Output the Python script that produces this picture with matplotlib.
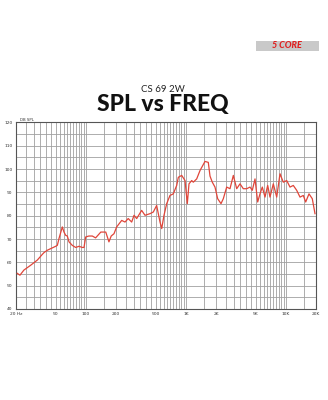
import numpy as np
import matplotlib
matplotlib.use("Agg")
import matplotlib.pyplot as plt
from matplotlib.patches import Rectangle

# ---- data ----
freq_hz = [20.6, 21.9, 24.0, 28.1, 32.7, 36.6, 38.1, 41.1, 44.5, 49.9, 51.8, 53.8,
           58.1, 60.4, 62.8, 65.2, 67.8, 73.1, 79.1, 85.3, 92.1, 95.7, 99.5, 107,
           116, 125, 141, 158, 170, 179, 191, 203, 228, 246, 265, 287, 303, 322,
           361, 390, 438, 472, 510, 551, 573, 604, 643, 693, 748, 809, 840, 908,
           980, 1033, 1074, 1143, 1186, 1282, 1384, 1472, 1552, 1675, 1742, 1837,
           1954, 2079, 2244, 2366, 2558, 2761, 2980, 3221, 3476, 3750, 4055, 4375,
           4613, 4910, 5224, 5508, 5808, 6181, 6576, 6935, 7482, 8093, 8730, 9419,
           10187, 10990, 11858, 12826, 13838, 14930, 15776, 17022, 18365, 19546]
spl_db = [55.3, 54.5, 56.7, 58.8, 61.0, 63.4, 64.2, 65.2, 65.9, 66.9, 67.3, 70.2,
          75.2, 73.0, 71.6, 71.3, 68.8, 67.3, 66.4, 66.9, 66.4, 66.4, 70.9, 71.3,
          71.3, 70.5, 73.0, 73.0, 68.8, 71.3, 72.3, 75.2, 78.0, 77.3, 78.8, 77.3,
          80.2, 78.8, 82.3, 80.2, 80.9, 81.6, 84.4, 77.3, 74.5, 80.2, 85.2, 88.7,
          89.4, 93.0, 96.5, 97.3, 95.1, 85.2, 93.7, 95.1, 94.4, 95.8, 99.4, 101.5,
          103.3, 102.9, 97.0, 94.4, 92.3, 87.3, 85.2, 87.3, 92.3, 91.6, 97.3, 91.6,
          93.7, 91.6, 91.6, 92.3, 90.9, 95.8, 85.9, 89.4, 92.3, 88.0, 93.0, 88.0,
          93.7, 88.0, 98.0, 94.4, 95.1, 92.3, 93.0, 90.9, 88.0, 88.7, 85.9, 89.4,
          87.3, 80.9]
x_tick_vals = [20, 50, 100, 200, 500, 1000, 2000, 5000, 10000, 20000]
x_tick_labels = ["20 Hz", "50", "100", "200", "500", "1K", "2K", "5K", "10K", "20K"]
y_tick_vals = [40, 50, 60, 70, 80, 90, 100, 110, 120]

# ---- figure ----
fig = plt.figure(figsize=(3.28, 4.0), dpi=100)
fig.patch.set_facecolor("white")

ax = fig.add_axes([16/328, 1 - 309/400, 300/328, 186.5/400])
ax.set_xscale("log")
ax.set_xlim(20, 20000)
ax.set_ylim(40, 120)

# grid lines
vgrid = list(range(25, 100, 5)) + list(range(100, 1000, 50)) + \
        list(range(1000, 10000, 500)) + [10000, 15000]
for v in vgrid:
    ax.axvline(v, color="#a0a0a0", lw=0.6, zorder=1)
for h in range(45, 120, 5):
    ax.axhline(h, color="#a0a0a0", lw=0.6, zorder=1)

ax.plot(freq_hz, spl_db, color="#e0463a", lw=0.9, zorder=3)

for s in ax.spines.values():
    s.set_color("#555555")
    s.set_linewidth(0.8)

ax.set_xticks(x_tick_vals)
ax.set_xticklabels(x_tick_labels)
ax.xaxis.set_minor_locator(matplotlib.ticker.NullLocator())
ax.set_yticks(y_tick_vals)
ax.set_yticklabels([str(v) for v in y_tick_vals])
ax.tick_params(axis="both", length=0, labelsize=3.2, colors="#333333", pad=2.5)

ax.text(0.012, 1.004, "DB SPL", transform=ax.transAxes, fontsize=2.8,
        color="#333333", va="bottom", ha="left")

# titles
fig.text(163/328, 1 - 89/400, "CS 69 2W", ha="center", va="center",
         fontsize=7, color="#222222", family="Lato")
fig.text(163/328, 1 - 105/400, "SPL vs FREQ", ha="center", va="center",
         fontsize=16.5, fontweight="black", color="#111111", family="Lato")

# logo
fig.patches.append(Rectangle((256/328, 1 - 51/400), 63/328, 10/400,
                             transform=fig.transFigure, facecolor="#c9c9c9",
                             edgecolor="none"))
fig.text(287/328, 1 - 46/400, "5 CORE", ha="center", va="center", fontsize=6.5,
         fontweight="black", style="italic", color="#e02020", family="Lato")

fig.savefig("out.png", dpi=100, facecolor="white")
